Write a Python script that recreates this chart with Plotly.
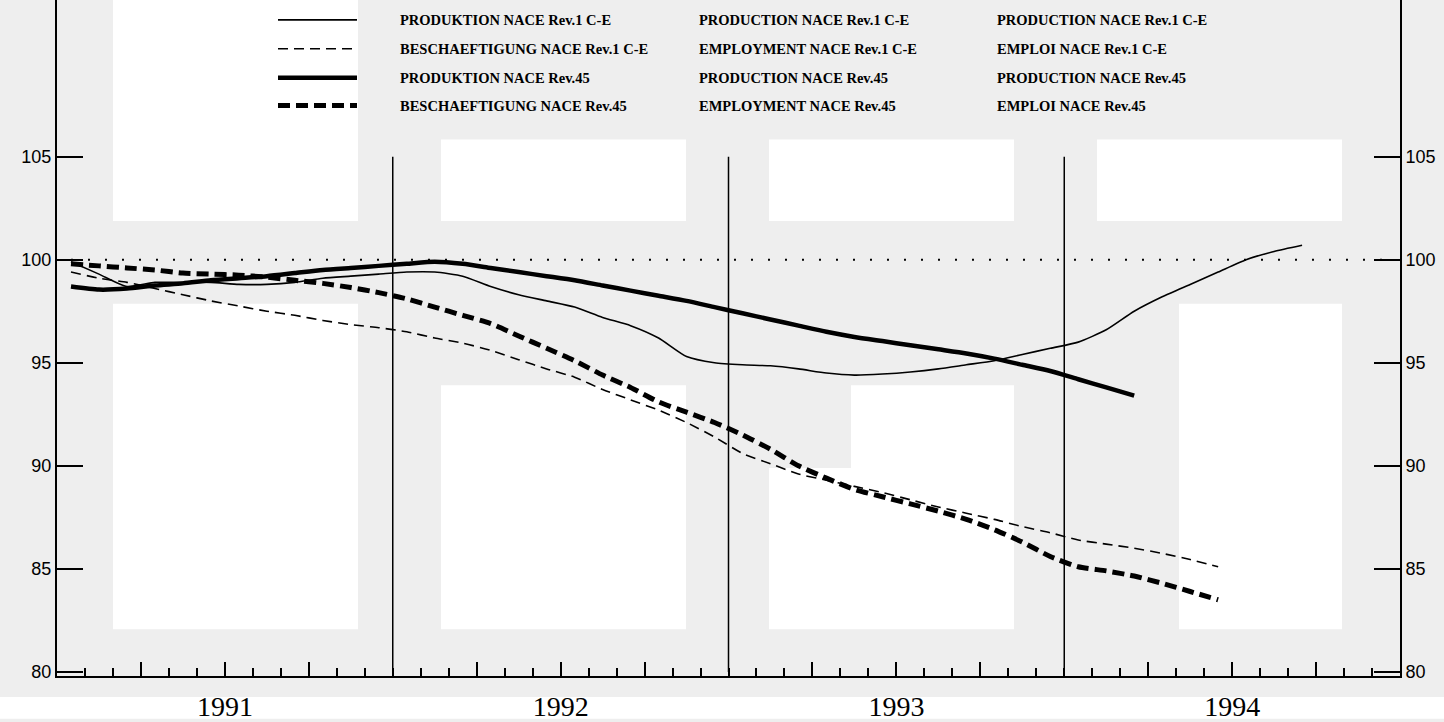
import plotly.graph_objects as go

# monthly index values, first value = January 1991
YEARS = ["1991", "1992", "1993", "1994"]
Y_TICKS = [80, 85, 90, 95, 100, 105]
REF_LEVEL = 100

produktion_rev1 = [
    99.9, 99.3, 98.7, 98.9, 98.9, 98.9, 98.8, 98.8, 98.9, 99.1, 99.2, 99.3,
    99.4, 99.4, 99.2, 98.7, 98.3, 98.0, 97.7, 97.2, 96.8, 96.2, 95.3, 95.0,
    94.9, 94.85, 94.7, 94.5, 94.4, 94.45, 94.55, 94.7, 94.9, 95.1, 95.4, 95.7,
    96.0, 96.6, 97.5, 98.2, 98.8, 99.4, 100.0, 100.4, 100.7,
]
beschaeftigung_rev1 = [
    99.4, 99.1, 98.9, 98.6, 98.3, 98.0, 97.75, 97.5, 97.3, 97.05, 96.85, 96.7,
    96.5, 96.2, 95.95, 95.6, 95.15, 94.7, 94.3, 93.7, 93.2, 92.7, 92.1, 91.4,
    90.6, 90.1, 89.6, 89.3, 89.0, 88.7, 88.35, 88.0, 87.7, 87.4, 87.05, 86.75,
    86.4, 86.2, 86.0, 85.75, 85.45, 85.1,
]
produktion_rev45 = [
    98.7, 98.55, 98.6, 98.75, 98.85, 99.0, 99.1, 99.2, 99.35, 99.5, 99.6, 99.7,
    99.8, 99.9, 99.8, 99.6, 99.4, 99.2, 99.0, 98.75, 98.5, 98.25, 98.0, 97.7,
    97.4, 97.1, 96.8, 96.5, 96.25, 96.05, 95.85, 95.65, 95.45, 95.2, 94.9, 94.6,
    94.2, 93.8, 93.4,
]
beschaeftigung_rev45 = [
    99.8, 99.7, 99.6, 99.5, 99.35, 99.3, 99.25, 99.15, 99.0, 98.85, 98.65, 98.4,
    98.1, 97.7, 97.3, 96.9, 96.3, 95.7, 95.1, 94.4, 93.8, 93.1, 92.6, 92.1,
    91.5, 90.8, 90.0, 89.4, 88.85, 88.5, 88.15, 87.8, 87.4, 86.9, 86.3, 85.6,
    85.1, 84.9, 84.65, 84.3, 83.9, 83.5,
]

LEGEND_ROWS = [
    ("PRODUKTION NACE Rev.1 C-E", "PRODUCTION NACE Rev.1 C-E", "PRODUCTION NACE Rev.1 C-E"),
    ("BESCHAEFTIGUNG NACE Rev.1 C-E", "EMPLOYMENT NACE Rev.1 C-E", "EMPLOI NACE Rev.1 C-E"),
    ("PRODUKTION NACE Rev.45", "PRODUCTION NACE Rev.45", "PRODUCTION NACE Rev.45"),
    ("BESCHAEFTIGUNG NACE Rev.45", "EMPLOYMENT NACE Rev.45", "EMPLOI NACE Rev.45"),
]

W, H = 1444, 722
ML, MR, MT, MB = 57, 44, 0, 43
PW, PH = W - ML - MR, H - MT - MB


def px(x):
    return (x - ML) / PW


def py(y):
    return 1 - (y - MT) / PH


series = [
    (produktion_rev1, 1.6, "solid"),
    (beschaeftigung_rev1, 1.6, "10px,6px"),
    (produktion_rev45, 4.5, "solid"),
    (beschaeftigung_rev45, 5, "12px,6px"),
]

fig = go.Figure()
for (vals, width, dash), row in zip(series, LEGEND_ROWS):
    fig.add_trace(go.Scatter(
        x=[m + 0.5 for m in range(len(vals))],
        y=vals,
        mode="lines",
        name=row[0],
        line=dict(color="black", width=width, dash=dash, shape="spline", smoothing=0.6),
        showlegend=False,
    ))

# carrier for the right-hand axis
fig.add_trace(go.Scatter(x=[None], y=[None], yaxis="y2", showlegend=False, hoverinfo="skip"))

shapes = []
# scan background patches
for x0, y0, x1, y1 in [
    (113, 0, 358, 222), (441, 140, 686, 222), (769, 140, 1014, 222), (1097, 140, 1342, 222),
    (113, 305, 358, 632), (441, 387, 686, 632), (769, 470, 1014, 632), (851, 387, 1014, 470),
    (1179, 305, 1342, 632), (0, 700, 1444, 722),
]:
    shapes.append(dict(type="rect", xref="paper", yref="paper",
                       x0=px(x0), x1=px(x1), y0=py(y1), y1=py(y0),
                       fillcolor="white", line=dict(width=0), layer="below"))

# year separators
for i in range(1, len(YEARS)):
    shapes.append(dict(type="line", xref="x", yref="y", x0=12 * i, x1=12 * i,
                       y0=Y_TICKS[0], y1=Y_TICKS[-1], line=dict(color="black", width=1.5)))

# dotted reference line
shapes.append(dict(type="line", xref="x", yref="y", x0=0.5, x1=47.5, y0=REF_LEVEL, y1=REF_LEVEL,
                   line=dict(color="black", width=2, dash="2px,15px")))

# legend block
annotations = []
row_y = [20, 49, 78, 106]
col_x = [398, 697, 995]
for (vals, width, dash), row, ry in zip(series, LEGEND_ROWS, row_y):
    shapes.append(dict(type="line", xref="paper", yref="paper",
                       x0=px(278), x1=px(357), y0=py(ry), y1=py(ry),
                       line=dict(color="black", width=width, dash=dash)))
    for text, cx in zip(row, col_x):
        annotations.append(dict(
            xref="paper", yref="paper", x=px(cx), y=py(ry), text=text,
            showarrow=False, xanchor="left", yanchor="middle",
            font=dict(family="Liberation Serif", size=14.5, color="black", weight="bold"),
        ))

quarters = [q for q in range(3, 48, 3) if q % 12 != 0]
year_mid = {12 * i + 6: y for i, y in enumerate(YEARS)}

axis_font = dict(family="Liberation Sans Narrow, Liberation Sans", size=18, color="black")

fig.update_layout(
    width=W,
    height=H,
    paper_bgcolor="#eeeeee",
    plot_bgcolor="#eeeeee",
    margin=dict(l=ML, r=MR, t=MT, b=MB, pad=0),
    showlegend=False,
    shapes=shapes,
    annotations=annotations,
    xaxis=dict(
        range=[0, 48],
        tickmode="array",
        tickvals=quarters,
        ticktext=[year_mid.get(q, "") for q in quarters],
        ticks="inside",
        ticklen=14,
        tickwidth=1.5,
        tickcolor="black",
        minor=dict(dtick=1, tick0=0, ticks="inside", ticklen=8, tickwidth=1.5, tickcolor="black"),
        tickfont=dict(family="Liberation Serif", size=28, color="black"),
        ticklabelstandoff=4,
        showgrid=False,
        zeroline=False,
        showline=True,
        linecolor="black",
        linewidth=2,
    ),
    yaxis=dict(
        range=[79.8, 112.6],
        tickvals=Y_TICKS,
        ticks="inside",
        ticklen=26,
        tickwidth=1.5,
        tickcolor="black",
        tickfont=axis_font,
        showgrid=False,
        zeroline=False,
        showline=True,
        linecolor="black",
        linewidth=2,
    ),
    yaxis2=dict(
        range=[79.8, 112.6],
        overlaying="y",
        side="right",
        tickvals=Y_TICKS,
        ticks="inside",
        ticklen=26,
        tickwidth=1.5,
        tickcolor="black",
        tickfont=axis_font,
        showgrid=False,
        zeroline=False,
        showline=True,
        linecolor="black",
        linewidth=2,
    ),
)

fig.write_html("out.html", config={"displayModeBar": False},
               post_script="document.body.style.margin='0';")
